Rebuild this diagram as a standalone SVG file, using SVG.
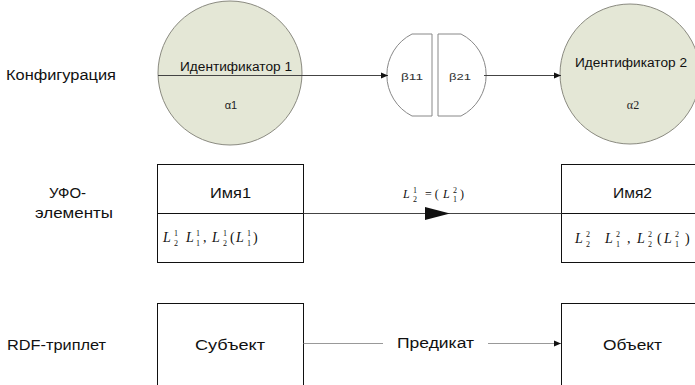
<svg xmlns="http://www.w3.org/2000/svg" width="695" height="385" viewBox="0 0 695 385">
<defs>
<style>
.lbl{font-family:"Liberation Sans",Arial,sans-serif;font-size:14px;fill:#111}
.sm{font-family:"Liberation Sans",Arial,sans-serif;font-size:12px;fill:#111}
.tiny{font-family:"Liberation Sans",Arial,sans-serif;font-size:9px;fill:#333}
.gr{font-family:"Liberation Sans",Arial,sans-serif;font-size:11px;fill:#222}
.grs{font-family:"Liberation Serif","Times New Roman",serif;font-size:12px;fill:#222}
.m{font-family:"Liberation Serif","Times New Roman",serif;font-size:14px;font-style:italic;fill:#111}
.mr{font-family:"Liberation Serif","Times New Roman",serif;font-size:14px;fill:#111}
.s{font-family:"Liberation Serif","Times New Roman",serif;font-size:8px;fill:#111}
.circ{fill:#e4e7d6;stroke:#8a8a80;stroke-width:1}
.box{fill:#fff;stroke:#111;stroke-width:1}
.beta{fill:#fff;stroke:#888;stroke-width:1}
.ln{stroke:#444;stroke-width:1;fill:none}
.lg{stroke:#999;stroke-width:1;fill:none}
</style>
<marker id="ah" markerWidth="8" markerHeight="8" refX="7" refY="4" orient="auto" markerUnits="userSpaceOnUse">
<path d="M0,1 L7,4 L0,7 Z" fill="#111"/>
</marker>
</defs>

<g id="row-labels">
<text class="lbl" x="6" y="80" textLength="110" lengthAdjust="spacingAndGlyphs">Конфигурация</text>
<text class="lbl" x="49" y="198" textLength="37" lengthAdjust="spacingAndGlyphs">УФО-</text>
<text class="lbl" x="35" y="218" textLength="78" lengthAdjust="spacingAndGlyphs">элементы</text>
<text class="lbl" x="7" y="350" textLength="99" lengthAdjust="spacingAndGlyphs">RDF-триплет</text>
</g>

<g id="id1">
<circle class="circ" cx="230" cy="73" r="72"/>
<text class="sm" x="180" y="71" textLength="112" lengthAdjust="spacingAndGlyphs">Идентификатор 1</text>
<text class="gr" x="231" y="109" text-anchor="middle">α1</text>
</g>

<g id="beta11">
<path class="beta" d="M412,34 A46,46 0 0 0 412,116 L432,116 L432,34 Z"/>
<text class="tiny" x="401" y="80" textLength="22" lengthAdjust="spacingAndGlyphs">β11</text>
</g>
<g id="beta21">
<path class="beta" d="M438,34 L461,34 A46,46 0 0 1 461,116 L438,116 Z"/>
<text class="tiny" x="449" y="80" textLength="22" lengthAdjust="spacingAndGlyphs">β21</text>
</g>

<g id="id2">
<circle class="circ" cx="630" cy="74" r="70"/>
<text class="sm" x="575" y="67" textLength="112" lengthAdjust="spacingAndGlyphs">Идентификатор 2</text>
<text class="grs" x="633" y="109" text-anchor="middle">α2</text>
</g>

<g id="name1">
<rect class="box" x="157.5" y="164.5" width="146" height="98"/>
<line class="box" x1="157.5" y1="213.5" x2="303.5" y2="213.5"/>
<text class="lbl" x="210" y="198" textLength="41" lengthAdjust="spacingAndGlyphs">Имя1</text>
<text class="m" x="163" y="242">L</text><text class="s" x="174" y="236">1</text><text class="s" x="174" y="246">2</text>
<text class="m" x="186" y="242">L</text><text class="s" x="196" y="236">1</text><text class="s" x="196" y="246">1</text>
<text class="mr" x="203" y="242">,</text>
<text class="m" x="212" y="242">L</text><text class="s" x="223" y="236">1</text><text class="s" x="223" y="246">2</text>
<text class="mr" x="230" y="242">(</text>
<text class="m" x="236" y="242">L</text><text class="s" x="247" y="236">1</text><text class="s" x="247" y="246">1</text>
<text class="mr" x="253" y="242">)</text>
</g>

<g id="name2">
<rect class="box" x="561.5" y="164.5" width="140" height="98"/>
<line class="box" x1="561.5" y1="213.5" x2="695" y2="213.5"/>
<text class="lbl" x="613" y="198" textLength="39" lengthAdjust="spacingAndGlyphs">Имя2</text>
<text class="m" x="575" y="243">L</text><text class="s" x="586" y="237">2</text><text class="s" x="586" y="247">2</text>
<text class="m" x="605" y="243">L</text><text class="s" x="616" y="237">2</text><text class="s" x="616" y="247">1</text>
<text class="mr" x="627" y="243">,</text>
<text class="m" x="637" y="243">L</text><text class="s" x="648" y="237">2</text><text class="s" x="648" y="247">2</text>
<text class="mr" x="657" y="243">(</text>
<text class="m" x="664" y="243">L</text><text class="s" x="675" y="237">2</text><text class="s" x="675" y="247">1</text>
<text class="mr" x="685" y="243">)</text>
</g>

<g id="subject">
<rect class="box" x="157.5" y="303.5" width="146" height="90"/>
<text class="lbl" x="195" y="350" textLength="70" lengthAdjust="spacingAndGlyphs">Субъект</text>
</g>
<g id="object">
<rect class="box" x="561.5" y="303.5" width="140" height="90"/>
<text class="lbl" x="603" y="350" textLength="59" lengthAdjust="spacingAndGlyphs">Объект</text>
</g>

<g id="connectors">
<line class="ln" x1="158" y1="75.5" x2="388" y2="75.5" marker-end="url(#ah)"/>
<line class="ln" x1="484" y1="75.5" x2="561" y2="75.5" marker-end="url(#ah)"/>
<line class="ln" x1="303.5" y1="213.5" x2="561.5" y2="213.5"/>
<path d="M425,207 L450,213.5 L425,220 Z" fill="#111"/>
<text class="m" x="403" y="198" style="font-size:12px">L</text><text class="s" x="413" y="193">1</text><text class="s" x="413" y="202">2</text>
<text class="mr" x="425" y="198" style="font-size:12px">= (</text>
<text class="m" x="443" y="198" style="font-size:12px">L</text><text class="s" x="453" y="193">2</text><text class="s" x="453" y="202">1</text>
<text class="mr" x="460" y="198" style="font-size:12px">)</text>
<line class="lg" x1="303.5" y1="343.5" x2="383" y2="343.5"/>
<text class="lbl" x="397" y="348" textLength="77" lengthAdjust="spacingAndGlyphs">Предикат</text>
<line class="lg" x1="488" y1="343.5" x2="561" y2="343.5" marker-end="url(#ah)"/>
</g>
</svg>
